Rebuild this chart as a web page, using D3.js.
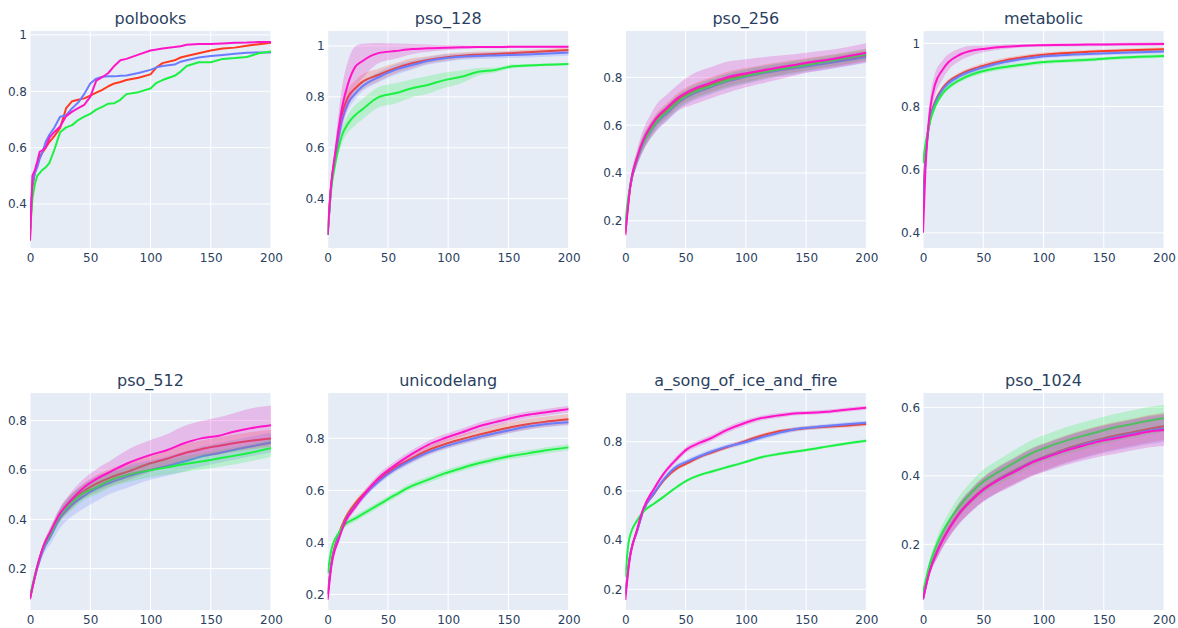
<!DOCTYPE html>
<html>
<head>
<meta charset="utf-8">
<script src="https://cdn.jsdelivr.net/npm/d3@7"></script>
<style>
  html, body { margin: 0; padding: 0; background: #ffffff; }
  svg { display: block; font-family: "DejaVu Sans", Verdana, sans-serif; }
</style>
</head>
<body>
<svg id="chart" width="1178" height="628"></svg>
<script>
// ---------------- DATA ----------------
const panelTitles = ["polbooks", "pso_128", "pso_256", "metabolic", "pso_512", "unicodelang", "a_song_of_ice_and_fire", "pso_1024"];
const seriesNames = ["red", "blue", "green", "magenta"];
const xTicks = [0, 50, 100, 150, 200];

// y-axis ranges and ticks per panel
const yRanges = [[0.244, 1.014], [0.206, 1.059], [0.086, 0.994], [0.352, 1.039], [0.032, 0.912], [0.14, 0.974], [0.116, 0.998], [0.008, 0.642]];
const yTicks = [[0.4, 0.6, 0.8, 1], [0.4, 0.6, 0.8, 1], [0.2, 0.4, 0.6, 0.8], [0.4, 0.6, 0.8, 1], [0.2, 0.4, 0.6, 0.8], [0.2, 0.4, 0.6, 0.8], [0.2, 0.4, 0.6, 0.8], [0.2, 0.4, 0.6]];

// polbooks
const polbooksX = [0,1,2,4,6,8,10,13,16,20,25,30,35,40,45,50,55,60,65,70,75,80,90,100,105,110,120,125,130,140,150,160,170,180,190,200];
const polbooksRed = [0.28,0.38,0.46,0.51,0.54,0.57,0.58,0.6,0.62,0.64,0.67,0.74,0.765,0.77,0.775,0.785,0.795,0.805,0.818,0.828,0.833,0.84,0.848,0.86,0.885,0.9,0.91,0.92,0.925,0.935,0.945,0.952,0.955,0.962,0.967,0.972];
const polbooksBlue = [0.3,0.4,0.47,0.51,0.53,0.56,0.58,0.62,0.645,0.67,0.71,0.715,0.74,0.76,0.79,0.828,0.845,0.852,0.853,0.853,0.855,0.856,0.865,0.876,0.885,0.89,0.895,0.905,0.91,0.92,0.925,0.929,0.933,0.937,0.938,0.938];
const polbooksGreen = [0.3,0.36,0.42,0.47,0.5,0.51,0.52,0.53,0.545,0.59,0.655,0.672,0.68,0.698,0.71,0.72,0.735,0.745,0.756,0.758,0.77,0.79,0.797,0.81,0.83,0.84,0.855,0.87,0.89,0.903,0.903,0.915,0.918,0.922,0.935,0.941];
const polbooksMagenta = [0.27,0.38,0.5,0.52,0.55,0.585,0.59,0.6,0.635,0.655,0.675,0.712,0.728,0.74,0.752,0.78,0.838,0.85,0.865,0.89,0.91,0.915,0.93,0.945,0.948,0.952,0.957,0.96,0.965,0.968,0.968,0.97,0.972,0.973,0.975,0.975];

// pso_128
const pso128X = [0,3,6,12,17,23,28,42,56,70,83,97,111,125,139,152,166,200];
const pso128Red = [0.257,0.46,0.56,0.735,0.8,0.834,0.856,0.886,0.912,0.932,0.945,0.955,0.962,0.966,0.969,0.972,0.975,0.984];
const pso128Blue = [0.257,0.45,0.55,0.71,0.775,0.814,0.838,0.877,0.906,0.925,0.941,0.952,0.958,0.961,0.963,0.965,0.967,0.974];
const pso128Green = [0.257,0.44,0.53,0.65,0.696,0.729,0.748,0.798,0.814,0.834,0.847,0.866,0.879,0.899,0.906,0.919,0.923,0.929];
const pso128Magenta = [0.257,0.46,0.57,0.76,0.853,0.919,0.938,0.972,0.98,0.988,0.991,0.993,0.995,0.996,0.996,0.997,0.997,0.997];
const pso128RedSd = [0,0.01,0.02,0.03,0.03,0.03,0.03,0.025,0.02,0.02,0.015,0.015,0.012,0.012,0.01,0.01,0.01,0.01];
const pso128BlueSd = [0,0.01,0.02,0.025,0.025,0.022,0.02,0.02,0.02,0.018,0.015,0.015,0.012,0.012,0.012,0.012,0.012,0.012];
const pso128GreenSd = [0,0.01,0.02,0.03,0.035,0.04,0.04,0.04,0.04,0.035,0.035,0.03,0.025,0.015,0.01,0.008,0.006,0.005];
const pso128MagentaSd = [0,0.02,0.04,0.08,0.09,0.08,0.07,0.04,0.03,0.02,0.015,0.01,0.008,0.005,0.005,0.005,0.005,0.005];

// pso_256
const pso256X = [0,4,10,15,21,26,35,43,57,70,84,98,112,126,140,153,167,200];
const pso256Red = [0.15,0.34,0.465,0.532,0.585,0.622,0.665,0.703,0.744,0.768,0.792,0.808,0.822,0.835,0.847,0.857,0.866,0.893];
const pso256Blue = [0.17,0.34,0.46,0.525,0.575,0.61,0.652,0.69,0.733,0.757,0.782,0.8,0.815,0.828,0.838,0.848,0.858,0.885];
const pso256Green = [0.2,0.35,0.465,0.528,0.578,0.615,0.658,0.695,0.738,0.762,0.786,0.803,0.818,0.832,0.843,0.854,0.866,0.897];
const pso256Magenta = [0.14,0.342,0.468,0.538,0.595,0.632,0.675,0.712,0.752,0.776,0.8,0.815,0.828,0.84,0.852,0.863,0.873,0.903];
const pso256RedSd = [0,0.015,0.025,0.03,0.03,0.03,0.03,0.03,0.03,0.03,0.03,0.03,0.028,0.027,0.026,0.025,0.025,0.025];
const pso256BlueSd = [0,0.015,0.025,0.03,0.03,0.03,0.03,0.03,0.03,0.03,0.03,0.03,0.028,0.027,0.026,0.025,0.025,0.025];
const pso256GreenSd = [0,0.015,0.025,0.03,0.03,0.03,0.03,0.03,0.03,0.03,0.03,0.03,0.028,0.027,0.026,0.025,0.025,0.025];
const pso256MagentaSd = [0,0.02,0.035,0.045,0.05,0.055,0.055,0.055,0.065,0.065,0.065,0.06,0.055,0.05,0.045,0.042,0.04,0.04];

// metabolic
const metabolicX = [0,2,4,6,10,16,21,30,41,52,68,82,96,110,137,165,200];
const metabolicRed = [0.5,0.64,0.72,0.765,0.815,0.857,0.878,0.9,0.918,0.931,0.946,0.955,0.962,0.967,0.973,0.977,0.981];
const metabolicBlue = [0.48,0.63,0.71,0.76,0.81,0.852,0.873,0.895,0.913,0.926,0.941,0.95,0.957,0.961,0.966,0.97,0.974];
const metabolicGreen = [0.62,0.68,0.72,0.755,0.8,0.84,0.86,0.883,0.902,0.914,0.925,0.932,0.939,0.943,0.948,0.955,0.96];
const metabolicMagenta = [0.4,0.6,0.72,0.795,0.87,0.915,0.94,0.963,0.977,0.983,0.989,0.992,0.994,0.995,0.996,0.997,0.998];
const metabolicRedSd = [0,0.01,0.01,0.01,0.01,0.008,0.008,0.008,0.008,0.008,0.008,0.007,0.007,0.006,0.006,0.006,0.006];
const metabolicBlueSd = [0,0.01,0.01,0.01,0.01,0.008,0.008,0.008,0.008,0.008,0.008,0.007,0.007,0.006,0.006,0.006,0.006];
const metabolicGreenSd = [0,0.01,0.01,0.01,0.01,0.008,0.008,0.008,0.008,0.008,0.008,0.007,0.007,0.006,0.006,0.006,0.006];
const metabolicMagentaSd = [0,0.02,0.03,0.035,0.035,0.03,0.025,0.02,0.015,0.01,0.007,0.005,0.005,0.005,0.005,0.005,0.005];

// pso_512
const pso512X = [0,6,11,17,25,33,44,56,67,81,100,114,128,142,156,169,183,200];
const pso512Red = [0.08,0.205,0.285,0.345,0.418,0.465,0.512,0.546,0.57,0.593,0.627,0.646,0.668,0.684,0.697,0.708,0.718,0.728];
const pso512Blue = [0.08,0.2,0.275,0.33,0.405,0.45,0.492,0.526,0.549,0.573,0.6,0.616,0.634,0.654,0.668,0.681,0.695,0.711];
const pso512Green = [0.09,0.21,0.285,0.34,0.415,0.46,0.505,0.532,0.559,0.58,0.6,0.611,0.624,0.634,0.646,0.657,0.67,0.688];
const pso512Magenta = [0.076,0.208,0.289,0.35,0.424,0.472,0.526,0.566,0.593,0.627,0.661,0.681,0.708,0.728,0.738,0.755,0.769,0.781];
const pso512RedSd = [0,0.01,0.015,0.02,0.025,0.03,0.03,0.035,0.035,0.035,0.035,0.035,0.035,0.035,0.035,0.035,0.035,0.035];
const pso512BlueSd = [0,0.015,0.02,0.03,0.04,0.045,0.05,0.05,0.045,0.045,0.04,0.04,0.04,0.04,0.04,0.04,0.04,0.04];
const pso512GreenSd = [0,0.01,0.015,0.02,0.025,0.03,0.03,0.03,0.03,0.03,0.03,0.03,0.032,0.033,0.034,0.035,0.035,0.035];
const pso512MagentaSd = [0,0.01,0.015,0.02,0.025,0.03,0.035,0.04,0.045,0.055,0.06,0.065,0.07,0.07,0.075,0.075,0.08,0.08];

// unicodelang
const unicodeX = [0,3,9,14,23,31,42,56,70,83,97,111,125,139,152,166,180,200];
const unicodeRed = [0.2,0.32,0.428,0.486,0.55,0.591,0.64,0.688,0.723,0.753,0.777,0.796,0.813,0.829,0.842,0.854,0.863,0.873];
const unicodeBlue = [0.2,0.315,0.42,0.478,0.54,0.584,0.633,0.681,0.717,0.745,0.768,0.787,0.804,0.819,0.832,0.845,0.854,0.862];
const unicodeGreen = [0.28,0.37,0.435,0.467,0.492,0.514,0.544,0.582,0.617,0.64,0.665,0.685,0.704,0.719,0.732,0.742,0.753,0.765];
const unicodeMagenta = [0.18,0.306,0.409,0.473,0.537,0.588,0.646,0.697,0.74,0.774,0.8,0.822,0.845,0.862,0.877,0.89,0.899,0.912];
const unicodeRedSd = [0,0.008,0.01,0.012,0.012,0.012,0.013,0.014,0.015,0.016,0.017,0.018,0.019,0.02,0.02,0.02,0.02,0.02];
const unicodeBlueSd = [0,0.008,0.01,0.012,0.012,0.012,0.012,0.012,0.012,0.012,0.012,0.012,0.012,0.012,0.012,0.012,0.012,0.012];
const unicodeGreenSd = [0,0.008,0.01,0.012,0.012,0.012,0.012,0.012,0.012,0.012,0.012,0.012,0.012,0.012,0.012,0.012,0.012,0.012];
const unicodeMagentaSd = [0,0.008,0.01,0.012,0.013,0.014,0.015,0.015,0.015,0.015,0.015,0.015,0.015,0.015,0.014,0.013,0.013,0.013];

// a_song_of_ice_and_fire
const asoiafX = [0,3,10,15,24,32,43,51,62,71,84,98,112,126,140,154,167,181,200];
const asoiafRed = [0.18,0.31,0.441,0.522,0.59,0.644,0.692,0.712,0.739,0.755,0.777,0.8,0.823,0.841,0.85,0.857,0.861,0.865,0.872];
const asoiafBlue = [0.18,0.31,0.44,0.52,0.592,0.648,0.701,0.719,0.742,0.759,0.78,0.796,0.816,0.834,0.85,0.858,0.864,0.87,0.877];
const asoiafGreen = [0.25,0.4,0.482,0.516,0.549,0.577,0.617,0.642,0.665,0.678,0.696,0.715,0.736,0.749,0.759,0.769,0.78,0.791,0.804];
const asoiafMagenta = [0.157,0.3,0.448,0.529,0.61,0.671,0.732,0.769,0.796,0.814,0.847,0.874,0.895,0.906,0.915,0.918,0.922,0.929,0.938];
const asoiafRedSd = [0,0.006,0.008,0.008,0.008,0.008,0.008,0.008,0.008,0.008,0.008,0.008,0.008,0.008,0.008,0.008,0.008,0.008,0.008];
const asoiafBlueSd = [0,0.006,0.008,0.008,0.009,0.01,0.01,0.01,0.01,0.01,0.01,0.01,0.01,0.01,0.009,0.008,0.008,0.008,0.008];
const asoiafGreenSd = [0,0.006,0.006,0.006,0.006,0.006,0.006,0.006,0.006,0.006,0.006,0.006,0.006,0.006,0.006,0.006,0.006,0.006,0.006];
const asoiafMagentaSd = [0,0.006,0.008,0.008,0.01,0.01,0.012,0.012,0.012,0.012,0.012,0.012,0.01,0.01,0.008,0.008,0.008,0.008,0.008];

// pso_1024
const pso1024X = [0,5,13,22,30,41,50,63,77,90,104,118,132,146,159,173,187,200];
const pso1024Red = [0.04,0.117,0.19,0.25,0.292,0.334,0.362,0.392,0.418,0.441,0.46,0.478,0.493,0.506,0.517,0.527,0.537,0.545];
const pso1024Blue = [0.04,0.116,0.189,0.248,0.29,0.332,0.36,0.39,0.416,0.44,0.458,0.475,0.49,0.503,0.513,0.523,0.532,0.539];
const pso1024Green = [0.06,0.135,0.213,0.271,0.31,0.354,0.383,0.412,0.441,0.466,0.485,0.502,0.516,0.529,0.541,0.551,0.561,0.568];
const pso1024Magenta = [0.039,0.115,0.188,0.247,0.289,0.331,0.359,0.388,0.414,0.438,0.456,0.473,0.487,0.5,0.509,0.519,0.529,0.534];
const pso1024RedSd = [0,0.01,0.02,0.025,0.03,0.033,0.035,0.037,0.038,0.04,0.04,0.04,0.04,0.04,0.04,0.04,0.04,0.04];
const pso1024BlueSd = [0,0.01,0.02,0.025,0.03,0.033,0.035,0.037,0.038,0.04,0.04,0.04,0.04,0.04,0.04,0.04,0.04,0.04];
const pso1024GreenSd = [0,0.01,0.02,0.025,0.03,0.033,0.035,0.036,0.037,0.038,0.038,0.039,0.04,0.04,0.04,0.04,0.04,0.04];
const pso1024MagentaSd = [0,0.01,0.02,0.025,0.03,0.033,0.035,0.037,0.039,0.04,0.041,0.042,0.043,0.044,0.045,0.045,0.046,0.047];

// ---------------- STYLE ----------------
const lineColors = { red: "#ff3a1e", blue: "#6a7cff", green: "#1cf042", magenta: "#ff14c8" };
const bandColors = { red: "rgba(255,58,30,0.22)", blue: "rgba(106,124,255,0.22)", green: "rgba(28,240,66,0.22)", magenta: "rgba(230,40,200,0.25)" };

const panels = [
  { x: polbooksX, m: [polbooksRed, polbooksBlue, polbooksGreen, polbooksMagenta], sd: null, smooth: false },
  { x: pso128X, m: [pso128Red, pso128Blue, pso128Green, pso128Magenta], sd: [pso128RedSd, pso128BlueSd, pso128GreenSd, pso128MagentaSd], smooth: true },
  { x: pso256X, m: [pso256Red, pso256Blue, pso256Green, pso256Magenta], sd: [pso256RedSd, pso256BlueSd, pso256GreenSd, pso256MagentaSd], smooth: true },
  { x: metabolicX, m: [metabolicRed, metabolicBlue, metabolicGreen, metabolicMagenta], sd: [metabolicRedSd, metabolicBlueSd, metabolicGreenSd, metabolicMagentaSd], smooth: true },
  { x: pso512X, m: [pso512Red, pso512Blue, pso512Green, pso512Magenta], sd: [pso512RedSd, pso512BlueSd, pso512GreenSd, pso512MagentaSd], smooth: true },
  { x: unicodeX, m: [unicodeRed, unicodeBlue, unicodeGreen, unicodeMagenta], sd: [unicodeRedSd, unicodeBlueSd, unicodeGreenSd, unicodeMagentaSd], smooth: true },
  { x: asoiafX, m: [asoiafRed, asoiafBlue, asoiafGreen, asoiafMagenta], sd: [asoiafRedSd, asoiafBlueSd, asoiafGreenSd, asoiafMagentaSd], smooth: true },
  { x: pso1024X, m: [pso1024Red, pso1024Blue, pso1024Green, pso1024Magenta], sd: [pso1024RedSd, pso1024BlueSd, pso1024GreenSd, pso1024MagentaSd], smooth: true }
];

// ---------------- LAYOUT ----------------
const svg = d3.select("#chart");
const fontFamily = '"DejaVu Sans", Verdana, sans-serif';
const marginL = 30, plotAreaW = 1134;
const colW = plotAreaW * 0.2125, colGap = plotAreaW * 0.05;
const rowTops = [31, 393], rowH = 217;
const textColor = "#2a3f5f";

panels.forEach((p, i) => {
  const col = i % 4, row = Math.floor(i / 4);
  const left = marginL + col * (colW + colGap);
  const top = rowTops[row];
  const g = svg.append("g").attr("transform", `translate(${left},${top})`);

  const x = d3.scaleLinear().domain([0, 200]).range([0, colW]);
  const y = d3.scaleLinear().domain(yRanges[i]).range([rowH, 0]);

  g.append("rect").attr("width", colW).attr("height", rowH).attr("fill", "#E5ECF6");

  // grid
  g.append("g").selectAll("line").data(xTicks).join("line")
    .attr("x1", d => x(d)).attr("x2", d => x(d)).attr("y1", 0).attr("y2", rowH)
    .attr("stroke", "#ffffff").attr("stroke-width", 1);
  g.append("g").selectAll("line").data(yTicks[i]).join("line")
    .attr("x1", 0).attr("x2", colW).attr("y1", d => y(d)).attr("y2", d => y(d))
    .attr("stroke", "#ffffff").attr("stroke-width", 1);

  // axes
  const xAxis = d3.axisBottom(x).tickValues(xTicks).tickSize(0).tickPadding(5).tickFormat(d3.format("d"));
  const xa = g.append("g").attr("transform", `translate(0,${rowH})`).call(xAxis);
  xa.select(".domain").remove();
  xa.selectAll("text").attr("fill", textColor).style("font-size", "12px").style("font-family", fontFamily);

  const yAxis = d3.axisLeft(y).tickValues(yTicks[i]).tickSize(0).tickPadding(3).tickFormat(d3.format("~g"));
  const ya = g.append("g").call(yAxis);
  ya.select(".domain").remove();
  ya.selectAll("text").attr("fill", textColor).style("font-size", "12px").style("font-family", fontFamily);

  // clip
  const clipId = "clip" + i;
  g.append("clipPath").attr("id", clipId).append("rect").attr("width", colW).attr("height", rowH);
  const plot = g.append("g").attr("clip-path", `url(#${clipId})`);

  const curve = p.smooth ? d3.curveMonotoneX : d3.curveLinear;
  seriesNames.forEach((name, k) => {
    const mean = p.m[k];
    const pts = p.x.map((xv, j) => ({ x: xv, y: mean[j], s: p.sd ? p.sd[k][j] : 0 }));
    if (p.sd) {
      const area = d3.area().curve(curve)
        .x(d => x(d.x)).y0(d => y(d.y - d.s)).y1(d => y(d.y + d.s));
      plot.append("path").datum(pts).attr("d", area).attr("fill", bandColors[name]).attr("stroke", "none");
    }
    const line = d3.line().curve(curve).x(d => x(d.x)).y(d => y(d.y));
    plot.append("path").datum(pts).attr("d", line)
      .attr("fill", "none").attr("stroke", lineColors[name]).attr("stroke-width", 2)
      .attr("stroke-linejoin", "round");
  });

  // title
  svg.append("text")
    .attr("x", left + colW / 2).attr("y", top - 7)
    .attr("text-anchor", "middle")
    .attr("fill", textColor)
    .style("font-size", "16px")
    .style("font-family", fontFamily)
    .text(panelTitles[i]);
});
</script>
</body>
</html>
